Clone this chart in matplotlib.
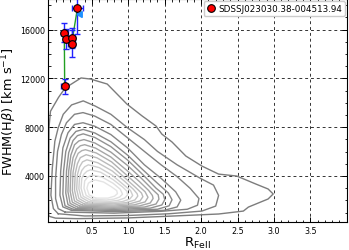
import matplotlib
matplotlib.use("Agg")
import matplotlib.pyplot as plt
from matplotlib.ticker import MultipleLocator

# --- source data ---
obj_name = "SDSSJ023030.38-004513.94"
rfe = [0.125, 0.12, 0.15, 0.22, 0.22, 0.30]
rfe_err = [0.045, 0.045, 0.045, 0.045, 0.045, 0.07]
fwhm = [11340, 15750, 15210, 15290, 14825, 17725]
fwhm_err = [620, 780, 800, 800, 1100, 2100]
arrow_pt = (0.34, 17300)

x_ticks = [0.5, 1.0, 1.5, 2.0, 2.5, 3.0, 3.5]
y_ticks = [4000, 8000, 12000, 16000]

# density contours of the parent sample (outer -> inner), (R_FeII, FWHM) vertices
contours = [
    [(-0.095,700),(-0.095,4000),(-0.09,8000),(-0.07,9300),(0.04,10430),(0.13,11200),(0.35,12030),(0.48,11940),(0.71,11530),(0.98,9890),(1.19,8910),(1.38,8090),(1.46,7430),(1.60,6780),(1.79,5630),(2.01,4810),(2.24,4150),(2.49,3990),(2.75,3340),(2.92,2930),(2.99,2520),(2.92,2110),(2.65,1450),(2.58,1120),(2.24,880),(1.56,700),(1.0,560),(0.3,500),(0.0,540),(-0.095,700)],
    [(0.036,900),(-0.03,1320),(-0.064,2420),(-0.045,4630),(-0.01,6840),(0.036,7940),(0.105,9050),(0.22,9820),(0.38,10150),(0.54,9740),(0.76,9050),(0.99,7940),(1.22,6980),(1.40,6010),(1.67,4910),(1.99,3800),(2.17,3250),(2.24,2400),(2.20,1530),(2.01,1120),(1.56,900),(1.0,760),(0.4,720),(0.036,900)],
    [(0.13,1040),(0.036,1320),(0.0,2150),(0.0,3800),(0.027,6010),(0.08,7390),(0.15,8360),(0.26,9050),(0.377,9190),(0.536,8910),(0.76,8220),(0.99,7120),(1.22,6010),(1.45,4910),(1.67,3940),(1.85,2980),(1.97,2150),(1.95,1600),(1.81,1270),(1.45,1100),(0.8,950),(0.13,1040)],
    [(0.22,1180),(0.10,1460),(0.06,2420),(0.07,4360),(0.10,6290),(0.17,7530),(0.26,8220),(0.377,8360),(0.536,8080),(0.76,7390),(0.99,6290),(1.22,4910),(1.45,3800),(1.65,2700),(1.72,2010),(1.67,1460),(1.49,1180),(0.8,1080),(0.22,1180)],
    [(0.25,1250),(0.13,1550),(0.10,2500),(0.11,4400),(0.14,6000),(0.20,7100),(0.28,7650),(0.38,7810),(0.54,7520),(0.76,6800),(0.99,5700),(1.20,4500),(1.40,3400),(1.55,2600),(1.60,2050),(1.56,1550),(1.40,1270),(0.8,1170),(0.25,1250)],
    [(0.28,1330),(0.17,1650),(0.14,2600),(0.15,4400),(0.18,5900),(0.24,6900),(0.30,7300),(0.38,7450),(0.54,7150),(0.76,6400),(0.99,5300),(1.20,4100),(1.38,3000),(1.48,2500),(1.50,2050),(1.46,1620),(1.30,1360),(0.8,1260),(0.28,1330)],
    [(0.31,1420),(0.20,1750),(0.17,2700),(0.18,4400),(0.21,5700),(0.26,6550),(0.32,6870),(0.39,6980),(0.54,6700),(0.76,5950),(0.99,4850),(1.18,3800),(1.33,2900),(1.41,2450),(1.42,2100),(1.38,1700),(1.22,1450),(0.8,1350),(0.31,1420)],
    [(0.34,1510),(0.23,1850),(0.20,2750),(0.21,4400),(0.24,5500),(0.29,6200),(0.34,6470),(0.40,6560),(0.55,6280),(0.76,5550),(0.98,4450),(1.15,3550),(1.28,2800),(1.33,2400),(1.34,2150),(1.30,1780),(1.15,1540),(0.8,1440),(0.34,1510)],
    [(0.37,1600),(0.26,1950),(0.23,2800),(0.24,4300),(0.27,5300),(0.31,5850),(0.36,6070),(0.41,6150),(0.56,5880),(0.77,5150),(0.97,4100),(1.12,3300),(1.23,2700),(1.27,2250),(1.23,1870),(1.08,1630),(0.8,1530),(0.37,1600)],
    [(0.40,1690),(0.29,2050),(0.26,2850),(0.27,4200),(0.30,5000),(0.34,5500),(0.42,5740),(0.57,5480),(0.78,4750),(0.96,3800),(1.10,3050),(1.18,2600),(1.20,2300),(1.16,1950),(1.02,1720),(0.8,1620),(0.40,1690)],
    [(0.43,1780),(0.32,2150),(0.29,2900),(0.30,4100),(0.33,4750),(0.37,5150),(0.43,5320),(0.58,5080),(0.78,4400),(0.95,3550),(1.07,2900),(1.12,2550),(1.13,2350),(1.09,2030),(0.97,1810),(0.8,1720),(0.43,1780)],
    [(0.46,1880),(0.35,2250),(0.32,2950),(0.33,3950),(0.36,4450),(0.40,4750),(0.45,4910),(0.60,4680),(0.78,4050),(0.93,3300),(1.03,2800),(1.06,2400),(1.02,2110),(0.92,1900),(0.8,1820),(0.46,1880)],
    [(0.49,1980),(0.38,2330),(0.35,3000),(0.36,3800),(0.39,4150),(0.43,4380),(0.48,4500),(0.62,4300),(0.79,3700),(0.92,3100),(0.98,2750),(0.99,2450),(0.95,2190),(0.86,2000),(0.75,1920),(0.49,1980)],
    [(0.52,2080),(0.42,2400),(0.39,3000),(0.40,3600),(0.44,3900),(0.50,4080),(0.64,3900),(0.79,3400),(0.89,2900),(0.92,2500),(0.88,2270),(0.80,2100),(0.70,2030),(0.52,2080)],
    [(0.55,2180),(0.46,2450),(0.43,3000),(0.45,3400),(0.50,3600),(0.55,3670),(0.66,3500),(0.77,3100),(0.84,2800),(0.85,2550),(0.81,2340),(0.72,2180),(0.55,2180)],
]

# --- styling ---
contour_colors = ['#7c7c7c', '#808080', '#828282', '#858585', '#8a8a8a', '#929292',
                  '#9c9c9c', '#a6a6a6', '#b0b0b0', '#bababa', '#c4c4c4', '#cecece',
                  '#d6d6d6', '#dedede', '#e4e4e4']

W, H = 349, 251
fig = plt.figure(figsize=(W / 100, H / 100), dpi=100)
ax = fig.add_axes([48.3 / W, (H - 223.3) / H, (346.7 - 48.3) / W, 223.3 / H])

for verts, col in zip(contours, contour_colors):
    xs = [v[0] for v in verts]
    ys = [v[1] for v in verts]
    ax.plot(xs, ys, color=col, lw=1.0, zorder=2, solid_joinstyle='round')

ax.plot(rfe, fwhm, color='#22a022', lw=1.0, zorder=3)
ax.errorbar(rfe, fwhm, xerr=rfe_err, yerr=fwhm_err, fmt='none', ecolor='#2222ff',
            elinewidth=1.0, capsize=2, capthick=1.0, zorder=4)
ax.plot(rfe, fwhm, 'o', mfc='red', mec='black', mew=0.8, ms=5.5, zorder=5,
        label=obj_name)
ax.plot([arrow_pt[0]], [arrow_pt[1]], marker=(3, 0, -30), color='#1e90ff',
        ms=5, zorder=4, lw=0)

ax.set_xlim(-0.1, 4.0)
ax.set_ylim(200, 18500)
ax.set_xticks(x_ticks)
ax.set_yticks(y_ticks)
ax.xaxis.set_minor_locator(MultipleLocator(0.1))
ax.yaxis.set_minor_locator(MultipleLocator(1000))
ax.tick_params(which='both', direction='in', top=True, right=True, labelsize=5.8, pad=2.5)
ax.tick_params(which='major', length=3.5, width=0.7)
ax.tick_params(which='minor', length=1.8, width=0.6)
ax.grid(True, which='major', color='#333333', ls=(0, (3, 3)), lw=0.7)
for s in ax.spines.values():
    s.set_linewidth(0.8)

ax.set_xlabel(r'R$_{\rm FeII}$', fontsize=9.5, labelpad=0)
ax.set_ylabel(r'FWHM(H$\beta$) [km s$^{-1}$]', fontsize=9.3, labelpad=0.5)

leg = ax.legend(loc='upper right', fontsize=6.3, handletextpad=0.3, borderpad=0.35,
                handlelength=1.0, borderaxespad=0.2, framealpha=1)

fig.savefig('out.png', dpi=100)
